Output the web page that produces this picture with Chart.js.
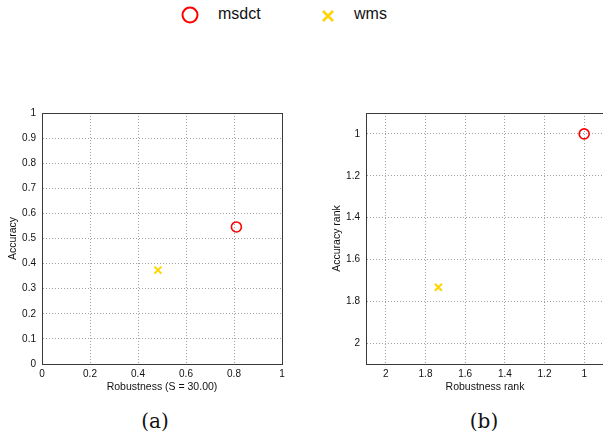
<!DOCTYPE html>
<html lang="en">
<head>
    <meta charset="UTF-8">
    <title>msdct vs wms</title>
    <script src="https://cdn.jsdelivr.net/npm/chart.js"></script>
    <style>
        body { margin: 0; background: white; width: 603px; height: 435px; position: relative; overflow: hidden; }
        canvas { position: absolute; top: 100px; }
        #chartA { left: 0; }
        #chartB { left: 300px; }
        #legend { position: absolute; top: 4px; left: 0; width: 603px; height: 24px;
                  font-family: "Liberation Sans", Arial, sans-serif; font-size: 16px; color: #111; }
        #legend span, #legend svg { position: absolute; }
        .caption { position: absolute; top: 409px; width: 60px; text-align: center;
                   font-family: "DejaVu Serif", "Liberation Serif", serif; font-size: 20px; color: #111; }
    </style>
</head>
<body>
    <div id="legend">
        <svg style="left:181px; top:2px" width="18" height="18"><circle cx="9" cy="9" r="7.5" fill="none" stroke="#ff0000" stroke-width="2"/></svg>
        <span style="left:218px; top:1px">msdct</span>
        <svg style="left:321px; top:5px" width="14" height="14"><path d="M2 2 L12 12 M12 2 L2 12" stroke="#ffd400" stroke-width="2.5"/></svg>
        <span style="left:354px; top:1px">wms</span>
    </div>

    <canvas id="chartA" width="300" height="300"></canvas>
    <!-- right plot runs past the page edge, as in the source figure -->
    <canvas id="chartB" width="310" height="300"></canvas>

    <div class="caption" style="left:125px">(a)</div>
    <div class="caption" style="left:454px">(b)</div>

    <script>
        // series names and colours
        const seriesNames = ["msdct", "wms"];
        const seriesColors = ["#ff0000", "#ffd400"];
        const seriesStyles = ["circle", "crossRot"];

        // (a) robustness vs accuracy
        const robustnessA = [0.81, 0.483];
        const accuracyA = [0.546, 0.374];
        const xTicksA = [0, 0.2, 0.4, 0.6, 0.8, 1];
        const yTicksA = [0, 0.1, 0.2, 0.3, 0.4, 0.5, 0.6, 0.7, 0.8, 0.9, 1];

        // (b) ranks
        const robustnessRankB = [1, 1.735];
        const accuracyRankB = [1, 1.733];
        const xTicksB = [1, 1.2, 1.4, 1.6, 1.8, 2];
        const yTicksB = [1, 1.2, 1.4, 1.6, 1.8, 2];

        Chart.defaults.font.family = "'Liberation Sans', Arial, sans-serif";
        Chart.defaults.font.size = 10;
        Chart.defaults.color = "#111";

        const BOX = "#3a3a3a";
        const GRID = "#a0a0a0";

        function fmt(v) {
            return String(Math.round(v * 10) / 10);
        }

        function makeDatasets(xs, ys) {
            return seriesNames.map((name, i) => ({
                label: name,
                data: [{ x: xs[i], y: ys[i] }],
                pointStyle: seriesStyles[i],
                pointRadius: 5,
                pointBorderWidth: i === 0 ? 1.6 : 2,
                borderColor: seriesColors[i],
                backgroundColor: "rgba(0,0,0,0)",
                pointBackgroundColor: "rgba(0,0,0,0)"
            }));
        }

        function gridAxis(opts) {
            return Object.assign({
                type: "linear",
                grid: { color: GRID, lineWidth: 1, drawTicks: false },
                border: { display: true, color: BOX, width: 1, dash: [1, 2] }
            }, opts);
        }

        // dummy axes that only draw the top and right sides of the box
        function boxAxis(axis, position) {
            return {
                type: "linear",
                axis: axis,
                position: position,
                ticks: { display: false },
                grid: { display: false, drawTicks: false },
                border: { display: true, color: BOX, width: 1 },
                afterFit: s => { if (axis === "x") s.height = 0; else s.width = 0; }
            };
        }

        function makeChart(id, cfg) {
            return new Chart(document.getElementById(id), {
                type: "scatter",
                data: { datasets: makeDatasets(cfg.xs, cfg.ys) },
                options: {
                    responsive: false,
                    animation: false,
                    layout: { autoPadding: false, padding: { top: cfg.padTop, right: cfg.padRight, left: 0, bottom: 0 } },
                    plugins: { legend: { display: false }, tooltip: { enabled: false } },
                    scales: {
                        x: gridAxis({
                            position: "bottom",
                            min: cfg.xMin, max: cfg.xMax, reverse: cfg.reverse,
                            afterBuildTicks: s => { s.ticks = cfg.xTicks.map(v => ({ value: v })); },
                            afterFit: s => { s.height = 36; s.paddingLeft = 0; s.paddingRight = 0; },
                            ticks: { padding: 4, maxRotation: 0, callback: v => fmt(v) },
                            title: { display: true, text: cfg.xTitle, font: { size: 10.5 }, padding: { top: 0, bottom: 7 } }
                        }),
                        y: gridAxis({
                            position: "left",
                            min: cfg.yMin, max: cfg.yMax, reverse: cfg.reverse,
                            afterBuildTicks: s => { s.ticks = cfg.yTicks.map(v => ({ value: v })); },
                            afterFit: s => { s.width = cfg.yWidth; s.paddingTop = 0; s.paddingBottom = 0; },
                            ticks: { padding: 6, callback: v => fmt(v) },
                            title: { display: true, text: cfg.yTitle, font: { size: 10.5 }, padding: { top: cfg.yTitlePad, bottom: 0 } }
                        }),
                        x2: boxAxis("x", "top"),
                        y2: boxAxis("y", "right")
                    }
                }
            });
        }

        makeChart("chartA", {
            xs: robustnessA, ys: accuracyA,
            xMin: 0, xMax: 1, yMin: 0, yMax: 1, reverse: false,
            xTicks: xTicksA, yTicks: yTicksA,
            xTitle: "Robustness (S = 30.00)", yTitle: "Accuracy",
            padTop: 13, padRight: 18, yWidth: 42, yTitlePad: 7
        });

        makeChart("chartB", {
            xs: robustnessRankB, ys: accuracyRankB,
            xMin: 0.9, xMax: 2.1, yMin: 0.9, yMax: 2.1, reverse: true,
            xTicks: xTicksB, yTicks: yTicksB,
            xTitle: "Robustness rank", yTitle: "Accuracy rank",
            padTop: 13, padRight: 6, yWidth: 66, yTitlePad: 31
        });
    </script>
</body>
</html>
